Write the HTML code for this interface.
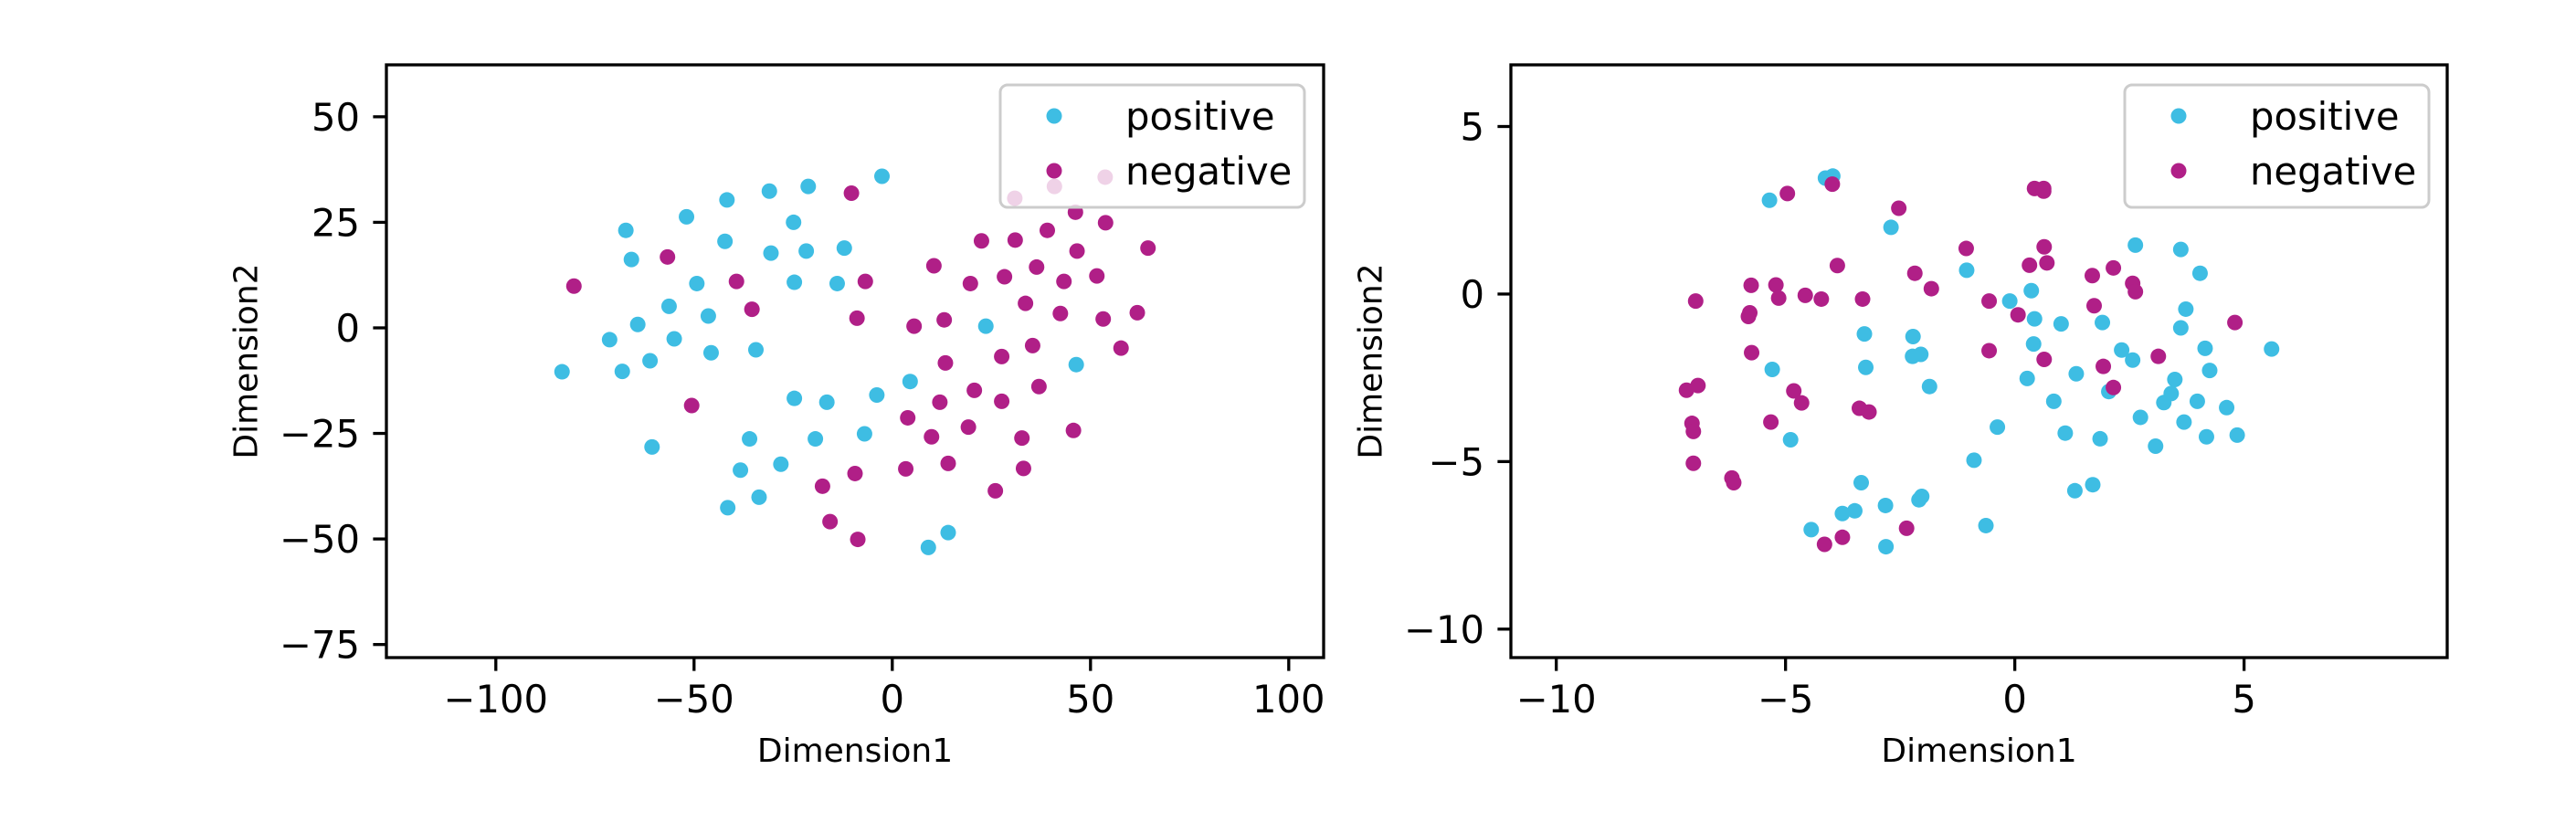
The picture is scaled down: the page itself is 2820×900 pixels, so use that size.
<!DOCTYPE html>
<html><head><meta charset="utf-8"><style>html,body{margin:0;padding:0;background:#fff}svg{display:block}text{font-family:"DejaVu Sans","Liberation Sans",sans-serif;fill:#000}</style></head>
<body>
<svg id="fig" width="2820" height="900" viewBox="0 0 2820 900" xmlns="http://www.w3.org/2000/svg"></svg>
<script>
const leftPosX=[-2.6,-21.2,-31.0,-41.7,-51.9,-24.9,-67.2,-42.2,-30.6,-21.7,-12.1,-65.8,-49.3,-24.7,-13.9,-56.3,-46.4,-64.2,-71.3,-55.0,-45.7,-34.4,-61.1,-83.3,-68.1,23.6,46.4,4.5,-24.7,-16.5,-3.9,-60.6,-36.0,-19.4,-7.0,-28.1,-38.3,-33.6,-41.5,14.1,9.1];
const leftPosY=[35.9,33.5,32.4,30.3,26.3,25.0,23.1,20.5,17.7,18.2,18.9,16.2,10.5,10.8,10.5,5.1,2.8,0.8,-2.8,-2.6,-5.9,-5.2,-7.8,-10.4,-10.3,0.4,-8.7,-12.7,-16.7,-17.6,-15.9,-28.2,-26.3,-26.3,-25.1,-32.3,-33.7,-40.1,-42.6,-48.5,-52.0];
const leftNegX=[-10.3,46.2,53.8,39.1,22.5,31.0,46.6,64.5,-56.7,10.5,36.4,-80.3,-39.3,-6.8,19.7,28.3,43.3,51.6,-35.4,-8.9,5.5,13.1,33.6,42.4,53.2,61.8,35.4,57.7,13.4,27.6,37.0,20.7,12.0,27.6,-50.6,3.9,19.2,9.9,32.7,45.7,3.4,14.1,33.1,-9.4,-17.6,26.0,-15.7,-8.7,30.9,40.9,53.7];
const leftNegY=[31.9,27.4,24.9,23.1,20.6,20.8,18.2,18.9,16.8,14.7,14.4,9.9,11.0,11.0,10.5,12.1,11.0,12.3,4.4,2.3,0.4,1.9,5.8,3.4,2.1,3.6,-4.2,-4.8,-8.3,-6.8,-13.9,-14.8,-17.6,-17.4,-18.4,-21.3,-23.5,-25.8,-26.1,-24.3,-33.4,-32.1,-33.3,-34.5,-37.5,-38.6,-45.9,-50.1,30.7,33.5,35.7];
const rightPosX=[-4.13,-3.97,-5.35,-2.70,-1.05,2.63,3.62,4.04,0.36,-0.11,0.43,1.01,1.91,3.73,3.62,-3.28,-2.22,-2.23,-2.05,0.41,2.33,2.57,4.15,5.60,-5.29,-3.25,-1.86,0.27,1.34,3.49,4.25,2.05,0.85,3.41,3.25,3.98,4.62,2.74,3.69,-0.38,1.10,1.86,4.18,4.85,3.07,-4.89,-0.89,-3.35,1.70,1.31,-2.82,-2.09,-2.03,-3.49,-3.76,-4.44,-0.63,-2.81];
const rightPosY=[3.46,3.52,2.80,1.99,0.71,1.46,1.33,0.62,0.10,-0.21,-0.74,-0.89,-0.85,-0.45,-1.01,-1.19,-1.27,-1.86,-1.80,-1.49,-1.67,-1.97,-1.62,-1.64,-2.25,-2.19,-2.76,-2.52,-2.38,-2.55,-2.28,-2.91,-3.20,-2.97,-3.24,-3.20,-3.39,-3.68,-3.82,-3.97,-4.15,-4.32,-4.26,-4.21,-4.54,-4.35,-4.96,-5.63,-5.69,-5.87,-6.31,-6.14,-6.04,-6.47,-6.55,-7.03,-6.91,-7.54];
const rightNegX=[-4.96,-3.98,0.43,0.63,0.63,-2.53,-1.06,0.64,0.32,0.70,-3.87,-2.18,1.69,2.15,2.57,2.63,-5.75,-5.21,-1.82,-6.96,-5.15,-4.57,-4.22,-3.32,-0.56,0.07,1.73,-5.78,-5.81,4.80,-5.74,-0.56,0.64,1.93,3.13,2.15,-7.16,-6.91,-4.82,-4.65,-3.39,-3.18,-5.32,-7.04,-7.01,-7.01,-6.17,-6.13,-2.36,-3.76,-4.15];
const rightNegY=[3.00,3.28,3.15,3.15,3.07,2.56,1.36,1.41,0.86,0.93,0.85,0.62,0.55,0.78,0.32,0.07,0.26,0.27,0.16,-0.21,-0.12,-0.04,-0.15,-0.15,-0.21,-0.62,-0.35,-0.56,-0.67,-0.85,-1.75,-1.69,-1.95,-2.16,-1.86,-2.79,-2.87,-2.73,-2.89,-3.25,-3.41,-3.52,-3.82,-3.86,-4.10,-5.05,-5.49,-5.63,-6.99,-7.26,-7.47];
const leftXTicks=[-100,-50,0,50,100];
const leftYTicks=[50,25,0,-25,-50,-75];
const rightXTicks=[-10,-5,0,5];
const rightYTicks=[5,0,-5,-10];
const legendLabels=["positive","negative"];

const NS="http://www.w3.org/2000/svg";
const svg=document.getElementById('fig');
const POS="#3ebde3", NEG="#b01f87";
function mk(tag,attrs,parent){const e=document.createElementNS(NS,tag);for(const k in attrs)e.setAttribute(k,attrs[k]);(parent||svg).appendChild(e);return e;}
function fmt(v){return v<0?"\u2212"+Math.abs(v):String(v);}

function panel(p){
  const g=mk('g',{});
  
  
  const sx=v=>p.L+(v-p.xmin)/(p.xmax-p.xmin)*(p.R-p.L);
  const sy=v=>p.B-(v-p.ymin)/(p.ymax-p.ymin)*(p.B-p.T);
  const pg=mk('g',{},g);
  
  
  p.px.forEach((x,i)=>{const c=mk('circle',{cx:sx(x),cy:sy(p.py[i]),r:8.5,fill:POS},pg);
    
    });
  const ng=mk('g',{},g);
  
  
  p.nx.forEach((x,i)=>{const c=mk('circle',{cx:sx(x),cy:sy(p.ny[i]),r:8.5,fill:NEG},ng);
    
    });
  const frame=mk('rect',{x:p.L,y:p.T,width:p.R-p.L,height:p.B-p.T,fill:'none',stroke:'#000','stroke-width':3.3},g);
  
  
  p.xt.forEach(v=>{const x=sx(v);
    const t=mk('line',{x1:x,x2:x,y1:p.B,y2:p.B+14.6,stroke:'#000','stroke-width':3.3},g);
    
    
    const l=mk('text',{x:x,y:780,'font-size':41.7,'text-anchor':'middle'},g);l.textContent=fmt(v);
    
    });
  p.yt.forEach(v=>{const y=sy(v);
    const t=mk('line',{x1:p.L-14.6,x2:p.L,y1:y,y2:y,stroke:'#000','stroke-width':3.3},g);
    
    
    const l=mk('text',{x:p.L-29,y:y+15,'font-size':41.7,'text-anchor':'end'},g);l.textContent=fmt(v);
    
    });
  const xl=mk('text',{x:(p.L+p.R)/2,y:834,'font-size':36,'text-anchor':'middle'},g);xl.textContent='Dimension1';
  
  
  const yc=(p.T+p.B)/2, yx=p.L-153;
  const yl=mk('text',{x:yx,y:yc,'font-size':36,'text-anchor':'middle','dominant-baseline':'central',transform:`rotate(-90 ${yx} ${yc})`},g);yl.textContent='Dimension2';
  
  
  const lg=mk('g',{},g);
  
  
  mk('rect',{x:p.lgx,y:93,width:333,height:134,rx:8,fill:'#fff','fill-opacity':0.8,stroke:'#cccccc','stroke-width':3},lg);
  [POS,NEG].forEach((c,i)=>{const yy=127+i*60;
    mk('circle',{cx:p.lgx+59,cy:yy,r:8.5,fill:c},lg);
    const t=mk('text',{x:p.lgx+137,y:yy+15,'font-size':41.7},lg);t.textContent=legendLabels[i];
    
    });
}
panel({name:'left-scatter',L:423,R:1449,T:71,B:720,xmin:-127.6,xmax:108.8,ymin:-78.1,ymax:62.3,px:leftPosX,py:leftPosY,nx:leftNegX,ny:leftNegY,xt:leftXTicks,yt:leftYTicks,lgx:1095});
panel({name:'right-scatter',L:1654,R:2679,T:71,B:720,xmin:-10.99,xmax:9.43,ymin:-10.85,ymax:6.84,px:rightPosX,py:rightPosY,nx:rightNegX,ny:rightNegY,xt:rightXTicks,yt:rightYTicks,lgx:2326});
</script>
</body></html>
